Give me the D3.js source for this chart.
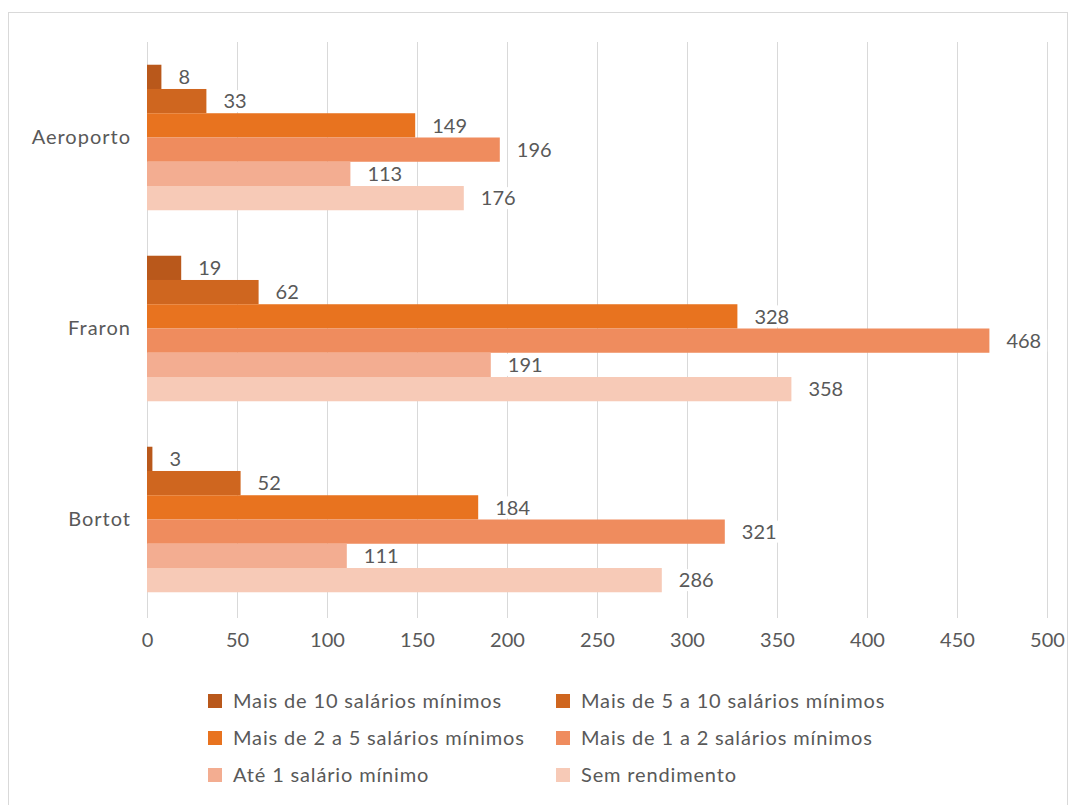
<!DOCTYPE html>
<html><head><meta charset="utf-8">
<script src="https://cdn.jsdelivr.net/npm/d3@7"></script>
<style>body{margin:0;background:#fff;} svg{display:block;font-family:Lato,"Liberation Sans",sans-serif;}</style>
</head><body>
<svg id="c" width="1071" height="805"></svg>
<script>
const categories = ["Aeroporto", "Fraron", "Bortot"];
const seriesNames = ["Mais de 10 salários mínimos", "Mais de 5 a 10 salários mínimos", "Mais de 2 a 5 salários mínimos", "Mais de 1 a 2 salários mínimos", "Até 1 salário mínimo", "Sem rendimento"];
const seriesColors = ["#b9581b", "#cf661f", "#e8731f", "#ef8c5e", "#f3ad91", "#f7cab7"];
const mais10 = [8, 19, 3];
const mais5a10 = [33, 62, 52];
const mais2a5 = [149, 328, 184];
const mais1a2 = [196, 468, 321];
const ate1 = [113, 191, 111];
const semRend = [176, 358, 286];
const xTicks = [0, 50, 100, 150, 200, 250, 300, 350, 400, 450, 500];

const seriesValues = [mais10, mais5a10, mais2a5, mais1a2, ate1, semRend];
const svg = d3.select("#c");
const textColor = "#595959";

svg.append("rect").attr("x", 8.5).attr("y", 12.5).attr("width", 1059).attr("height", 800)
  .attr("fill", "#fff").attr("stroke", "#d9d9d9");

const x = d3.scaleLinear().domain([0, 500]).range([147, 1047]);
const y = d3.scaleBand().domain(categories).range([42, 615]).paddingInner(0.238).paddingOuter(0.119);
const ys = d3.scaleBand().domain(d3.range(seriesNames.length)).range([0, y.bandwidth()]);

// gridlines
svg.append("g").selectAll("line").data(xTicks).join("line")
  .attr("x1", d => Math.round(x(d)) + 0.5).attr("x2", d => Math.round(x(d)) + 0.5)
  .attr("y1", 42).attr("y2", 618).attr("stroke", "#d9d9d9").attr("stroke-width", 1);

// x axis tick labels
const xAxis = d3.axisBottom(x).tickValues(xTicks).tickSize(0).tickPadding(0);
const gx = svg.append("g").attr("transform", "translate(0,632)").call(xAxis);
gx.select(".domain").remove();
gx.selectAll("text").attr("font-family", "Lato").attr("font-size", 20).attr("fill", textColor).attr("dy", "0.75em");

// y axis category labels
const yAxis = d3.axisLeft(y).tickSize(0).tickPadding(0);
const gy = svg.append("g").attr("transform", "translate(131,0)").call(yAxis);
gy.select(".domain").remove();
gy.selectAll("text").attr("font-family", "Lato").attr("font-size", 20).attr("letter-spacing", "1px").attr("fill", textColor);

// bars
const groups = svg.append("g").selectAll("g").data(categories).join("g")
  .attr("transform", d => `translate(0,${y(d)})`);

seriesValues.forEach((vals, si) => {
  groups.append("rect")
    .attr("x", x(0))
    .attr("y", ys(si))
    .attr("width", (d, ci) => x(vals[ci]) - x(0))
    .attr("height", ys.bandwidth())
    .attr("fill", seriesColors[si]);
});

// labels
seriesValues.forEach((vals, si) => {
  groups.each(function(cat, ci) {
    const g = d3.select(this);
    const lx = x(vals[ci]) + 17;
    const ly = ys(si) + ys.bandwidth() / 2;
    const bg = g.append("rect").attr("fill", "#fff");
    const t = g.append("text").attr("x", lx).attr("y", ly).attr("dy", "0.36em")
      .attr("font-size", 20).attr("fill", textColor).text(vals[ci]);
    const w = t.node().getComputedTextLength();
    bg.attr("x", lx - 6).attr("y", ly - 11).attr("width", w + 12).attr("height", 22);
  });
});

// legend
const legX = [208, 556];
const legY = [701, 738, 775];
const leg = svg.append("g").selectAll("g").data(seriesNames).join("g")
  .attr("transform", (d, i) => `translate(${legX[i % 2]},${legY[Math.floor(i / 2)]})`);
leg.append("rect").attr("x", 0).attr("y", -7).attr("width", 14).attr("height", 14)
  .attr("fill", (d, i) => seriesColors[i]);
leg.append("text").attr("x", 25).attr("y", 0).attr("dy", "0.36em")
  .attr("font-size", 20).attr("letter-spacing", "0.85px").attr("fill", textColor).text(d => d);
</script>
</body></html>
